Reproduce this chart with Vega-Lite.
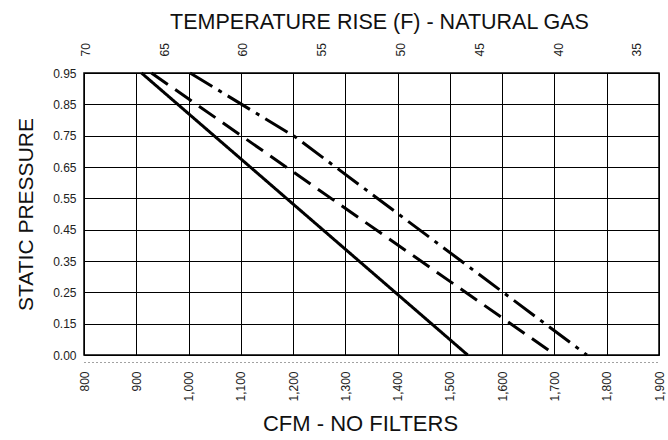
{
  "$schema": "https://vega.github.io/schema/vega-lite/v6.json",
  "width": 575,
  "height": 282,
  "autosize": "none",
  "padding": {"left": 84, "top": 73, "right": 9, "bottom": 85},
  "config": {
    "view": {"stroke": "black", "strokeWidth": 1.5},
    "font": "Liberation Sans",
    "axis": {"labelFont": "Liberation Sans", "titleFont": "Liberation Sans", "labelColor": "#222", "titleColor": "#111", "titleFontWeight": "normal"}
  },
  "datasets": {
    "curves": [
      {"series": "A", "cfm": 910, "sp": 0.95},
      {"series": "A", "cfm": 1534, "sp": 0.0},
      {"series": "B", "cfm": 929, "sp": 0.95},
      {"series": "B", "cfm": 1702, "sp": 0.0},
      {"series": "C", "cfm": 1003, "sp": 0.95},
      {"series": "C", "cfm": 1205, "sp": 0.745},
      {"series": "C", "cfm": 1762, "sp": 0.0}
    ],
    "temps": [
      {"temp": 70}, {"temp": 65}, {"temp": 60}, {"temp": 55},
      {"temp": 50}, {"temp": 45}, {"temp": 40}, {"temp": 35}
    ]
  },
  "layer": [
    {
      "data": {"name": "curves"},
      "mark": {"type": "line", "strokeWidth": 3, "color": "black", "strokeCap": "butt"},
      "encoding": {
        "x": {
          "field": "cfm", "type": "quantitative",
          "scale": {"domain": [800, 1900], "nice": false, "zero": false},
          "axis": {
            "orient": "bottom", "values": [800, 900, 1000, 1100, 1200, 1300, 1400, 1500, 1600, 1700, 1800, 1900],
            "format": ",d", "labelAngle": -90, "labelAlign": "right", "labelBaseline": "middle",
            "labelFontSize": 12, "ticks": false, "offset": 7, "labelPadding": 9,
            "domain": true, "domainDash": [1, 3], "domainColor": "#444", "domainWidth": 1,
            "grid": true, "gridColor": "#000", "gridWidth": 1, "gridOpacity": 1,
            "title": "CFM - NO FILTERS", "titleFontSize": 22, "titlePadding": 12, "titleX": 276
          }
        },
        "y": {
          "field": "sp", "type": "quantitative",
          "scale": {"domain": [0, 0.15, 0.95], "range": [282, 250.67, 0], "nice": false, "zero": false},
          "axis": {
            "values": [0, 0.15, 0.25, 0.35, 0.45, 0.55, 0.65, 0.75, 0.85, 0.95],
            "format": ".2f", "labelFontSize": 12, "ticks": false, "labelPadding": 8, "domain": false,
            "grid": true, "gridColor": "#000", "gridWidth": 1, "gridOpacity": 1,
            "title": "STATIC PRESSURE", "titleFontSize": 21, "titlePadding": 16
          }
        },
        "strokeDash": {
          "field": "series", "type": "nominal",
          "scale": {"domain": ["A", "B", "C"], "range": [[1, 0], [20, 9], [26, 7, 4, 7]]},
          "legend": null
        }
      }
    },
    {
      "data": {"name": "temps"},
      "mark": {"type": "point", "opacity": 0},
      "encoding": {
        "x": {
          "field": "temp", "type": "quantitative",
          "scale": {"domain": [70.08, 33.6], "nice": false, "zero": false},
          "axis": {
            "orient": "top", "values": [70, 65, 60, 55, 50, 45, 40, 35],
            "labelAngle": -90, "labelAlign": "left", "labelBaseline": "middle",
            "labelFontSize": 12, "ticks": false, "domain": false, "grid": false, "labelPadding": 17,
            "title": "TEMPERATURE RISE (F) - NATURAL GAS", "titleFontSize": 21.5, "titlePadding": 9, "titleX": 295
          }
        }
      }
    }
  ],
  "resolve": {"scale": {"x": "independent"}, "axis": {"x": "independent"}}
}
